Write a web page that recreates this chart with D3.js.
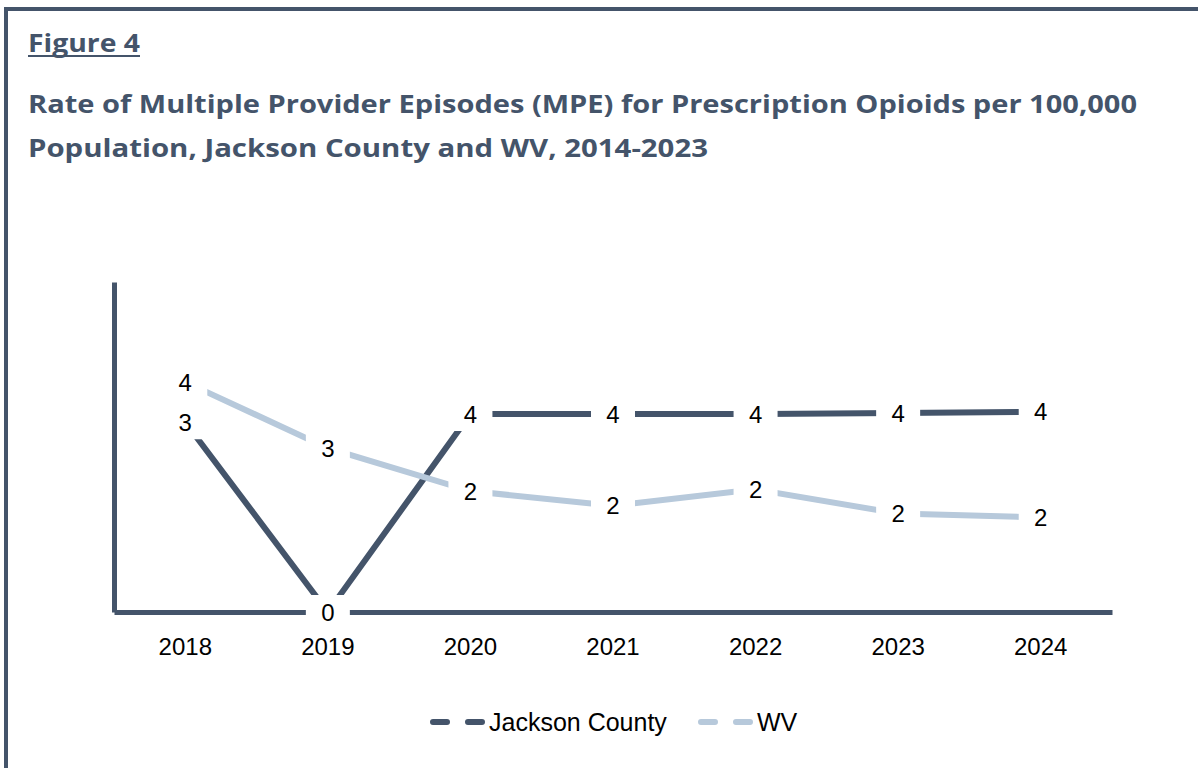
<!DOCTYPE html>
<html>
<head>
<meta charset="utf-8">
<script src="https://cdn.jsdelivr.net/npm/d3@7"></script>
<style>
    body { margin: 0; background: #fff; }
    svg { display: block; }
</style>
</head>
<body>
<svg id="chart"></svg>
<script>
const years = ['2018', '2019', '2020', '2021', '2022', '2023', '2024'];
const jackson = [3.45, 0, 3.6, 3.6, 3.6, 3.62, 3.64];
const wv = [4.18, 2.98, 2.2, 1.93, 2.23, 1.79, 1.72];
const seriesNames = ['Jackson County', 'WV'];
const titleLines = [
    'Rate of Multiple Provider Episodes (MPE) for Prescription Opioids per 100,000',
    'Population, Jackson County and WV, 2014-2023'
];
const titleWidths = [1109, 680];

const W = 1198, H = 768;
const dark = '#44546a';
const light = '#b7c9db';

const svg = d3.select('#chart')
    .attr('width', W)
    .attr('height', H);

svg.append('rect').attr('width', W).attr('height', H).attr('fill', '#fff');

// frame (only left + top edges are visible)
svg.append('path')
    .attr('d', `M6,${H} V9 H${W}`)
    .attr('fill', 'none')
    .attr('stroke', dark)
    .attr('stroke-width', 4);

svg.append('text')
    .attr('x', 28)
    .attr('y', 52)
    .attr('fill', dark)
    .attr('font-family', 'Open Sans, sans-serif')
    .attr('font-weight', 700)
    .attr('font-size', 25)
    .attr('textLength', 112)
    .attr('lengthAdjust', 'spacingAndGlyphs')
    .text('Figure 4');

// underline drawn by hand so it stays solid
svg.append('line')
    .attr('x1', 28)
    .attr('x2', 140)
    .attr('y1', 56)
    .attr('y2', 56)
    .attr('stroke', dark)
    .attr('stroke-width', 2);

svg.selectAll('.title')
    .data(titleLines)
    .enter()
    .append('text')
    .attr('class', 'title')
    .attr('x', 28)
    .attr('y', (d, i) => 113 + i * 44)
    .attr('fill', dark)
    .attr('font-family', 'Open Sans, sans-serif')
    .attr('font-weight', 700)
    .attr('font-size', 25)
    .attr('textLength', (d, i) => titleWidths[i])
    .attr('lengthAdjust', 'spacingAndGlyphs')
    .text(d => d);

const x = d3.scaleBand()
    .domain(years)
    .range([114, 1112]);

const y = d3.scaleLinear()
    .domain([0, 6])
    .range([612, 282]);

const cx = d => x(d) + x.bandwidth() / 2;

// axes
const xAxis = svg.append('g')
    .attr('transform', `translate(0, ${y(0)})`)
    .call(d3.axisBottom(x).tickSize(0).tickSizeOuter(0).tickPadding(26));

xAxis.select('.domain')
    .attr('stroke', dark)
    .attr('stroke-width', 5);

xAxis.selectAll('text')
    .attr('font-family', 'Liberation Sans, Arial, sans-serif')
    .attr('font-size', 24)
    .attr('fill', '#000');

const yAxis = svg.append('g')
    .attr('transform', `translate(${x.range()[0]}, 0)`)
    .call(d3.axisLeft(y).tickValues([]).tickSizeOuter(0));

yAxis.select('.domain')
    .attr('stroke', dark)
    .attr('stroke-width', 5);

const series = [
    { name: seriesNames[0], values: jackson, color: dark },
    { name: seriesNames[1], values: wv, color: light }
];

const line = d3.line()
    .x((d, i) => cx(years[i]))
    .y(d => y(d));

svg.selectAll('.series')
    .data(series)
    .enter()
    .append('path')
    .attr('class', 'series')
    .attr('d', d => line(d.values))
    .attr('fill', 'none')
    .attr('stroke', d => d.color)
    .attr('stroke-width', 6);

// data labels with white boxes
const labels = series.flatMap(s => s.values.map((v, i) => ({ year: years[i], value: v })));

const lab = svg.selectAll('.label')
    .data(labels)
    .enter()
    .append('g')
    .attr('class', 'label')
    .attr('transform', d => `translate(${cx(d.year)}, ${y(d.value)})`);

lab.append('rect')
    .attr('x', -22)
    .attr('y', -17)
    .attr('width', 44)
    .attr('height', 34)
    .attr('fill', '#fff');

lab.append('text')
    .attr('text-anchor', 'middle')
    .attr('dy', '0.36em')
    .attr('font-family', 'Liberation Sans, Arial, sans-serif')
    .attr('font-size', 24)
    .attr('fill', '#000')
    .text(d => d3.format('.0f')(d.value));

// legend
const legendX = [430, 698];
const legend = svg.selectAll('.legend')
    .data(series)
    .enter()
    .append('g')
    .attr('class', 'legend')
    .attr('transform', (d, i) => `translate(${legendX[i]}, 722)`);

legend.append('line')
    .attr('x1', 3)
    .attr('x2', 55)
    .attr('stroke', d => d.color)
    .attr('stroke-width', 6)
    .attr('stroke-linecap', 'round')
    .attr('stroke-dasharray', '14 21');

legend.append('text')
    .attr('x', 59)
    .attr('dy', '0.36em')
    .attr('font-family', 'Liberation Sans, Arial, sans-serif')
    .attr('font-size', 25)
    .attr('fill', '#000')
    .text(d => d.name);
</script>
</body>
</html>
